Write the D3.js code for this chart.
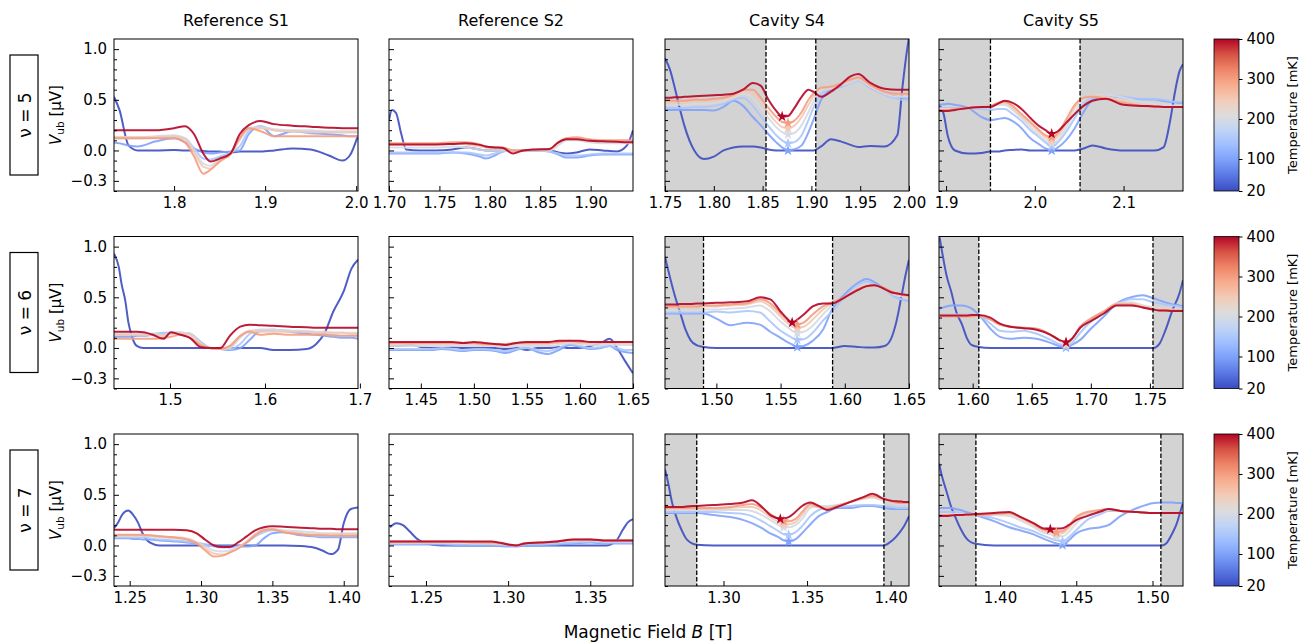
<!DOCTYPE html>
<html>
<head>
<meta charset="utf-8">
<script src="https://cdn.jsdelivr.net/npm/d3@7"></script>
<style>
  body { margin: 0; background: #fff; }
  text { font-family: "DejaVu Sans", sans-serif; fill: #000; }
</style>
</head>
<body>
<svg id="chart" width="1307" height="642"></svg>
<script>
// temperatures of the curves [mK], drawn from cold to hot
const TEMPS = [20, 100, 150, 200, 250, 300, 400];
const SAMPLES = ["Reference S1", "Reference S2", "Cavity S4", "Cavity S5"];
const FILLINGS = [5, 6, 7];
const Y_TICKS = [1.0, 0.5, 0.0, -0.3];
const CBAR_TICKS = [20, 100, 200, 300, 400];

// ---- nu = 5 ----
const B_S1_5 = [1.734, 1.740, 1.750, 1.760, 1.780, 1.800, 1.812, 1.822, 1.832, 1.840, 1.850, 1.862, 1.872, 1.882, 1.895, 1.910, 1.930, 1.950, 1.970, 1.985, 1.993, 2.002];
const V_S1_5 = [
  [0.53, 0.40, 0.05, 0.0, 0.0, 0.005, 0.0, 0.0, -0.005, -0.01, -0.01, -0.02, -0.01, -0.01, -0.01, 0.0, 0.02, 0.01, -0.05, -0.10, -0.05, 0.15],
  [0.08, 0.07, 0.05, 0.04, 0.09, 0.12, 0.08, 0.02, -0.02, -0.03, -0.02, -0.01, 0.0, 0.16, 0.24, 0.14, 0.19, 0.17, 0.16, 0.15, 0.14, 0.14],
  [0.12, 0.12, 0.12, 0.12, 0.13, 0.14, 0.12, 0.02, -0.08, -0.09, -0.06, -0.02, 0.04, 0.19, 0.24, 0.20, 0.19, 0.19, 0.18, 0.18, 0.18, 0.18],
  [0.13, 0.13, 0.13, 0.13, 0.14, 0.15, 0.12, 0.0, -0.13, -0.15, -0.08, -0.03, 0.10, 0.22, 0.23, 0.21, 0.20, 0.20, 0.19, 0.19, 0.19, 0.19],
  [0.13, 0.13, 0.13, 0.13, 0.13, 0.14, 0.11, -0.02, -0.16, -0.18, -0.10, -0.04, 0.12, 0.21, 0.22, 0.20, 0.19, 0.18, 0.18, 0.18, 0.18, 0.18],
  [0.12, 0.12, 0.12, 0.12, 0.12, 0.12, 0.08, -0.06, -0.23, -0.19, -0.11, -0.03, 0.12, 0.22, 0.19, 0.14, 0.14, 0.14, 0.14, 0.14, 0.14, 0.14],
  [0.20, 0.20, 0.20, 0.20, 0.20, 0.22, 0.24, 0.16, -0.03, -0.11, -0.08, -0.03, 0.16, 0.25, 0.29, 0.26, 0.245, 0.235, 0.225, 0.22, 0.22, 0.22]
];

const B_S2_5 = [1.700, 1.703, 1.707, 1.712, 1.717, 1.730, 1.746, 1.763, 1.776, 1.790, 1.796, 1.805, 1.813, 1.823, 1.833, 1.846, 1.859, 1.868, 1.876, 1.886, 1.899, 1.912, 1.926, 1.936, 1.942];
const V_S2_5 = [
  [0.30, 0.40, 0.37, 0.17, 0.01, 0.0, 0.0, 0.01, 0.03, 0.01, 0.0, 0.0, 0.0, 0.0, 0.0, 0.0, 0.0, -0.02, -0.03, -0.02, 0.01, 0.0, -0.01, 0.05, 0.20],
  [-0.03, -0.03, -0.03, -0.03, -0.03, -0.03, -0.03, -0.02, -0.03, -0.06, -0.08, -0.05, -0.01, 0.0, 0.0, 0.0, -0.01, -0.04, -0.07, -0.07, -0.05, -0.04, -0.04, -0.04, -0.04],
  [-0.02, -0.02, -0.02, -0.02, -0.02, -0.02, -0.02, -0.02, -0.02, -0.04, -0.05, -0.03, -0.01, 0.0, 0.0, 0.0, -0.01, -0.03, -0.05, -0.05, -0.04, -0.03, -0.03, -0.03, -0.03],
  [0.03, 0.03, 0.03, 0.03, 0.03, 0.03, 0.03, 0.04, 0.03, 0.01, 0.0, 0.0, 0.0, 0.0, 0.0, 0.0, 0.0, 0.05, 0.10, 0.10, 0.08, 0.07, 0.07, 0.07, 0.07],
  [0.06, 0.06, 0.06, 0.06, 0.06, 0.06, 0.06, 0.07, 0.06, 0.04, 0.03, 0.02, 0.02, 0.0, 0.0, 0.01, 0.01, 0.08, 0.12, 0.12, 0.10, 0.09, 0.09, 0.09, 0.09],
  [0.07, 0.07, 0.07, 0.07, 0.07, 0.07, 0.07, 0.08, 0.08, 0.06, 0.04, 0.03, 0.03, 0.0, 0.0, 0.01, 0.01, 0.08, 0.12, 0.13, 0.11, 0.10, 0.10, 0.10, 0.10],
  [0.06, 0.06, 0.06, 0.06, 0.06, 0.06, 0.06, 0.065, 0.07, 0.055, 0.04, 0.03, 0.025, -0.03, 0.0, 0.01, 0.015, 0.08, 0.11, 0.11, 0.095, 0.09, 0.085, 0.08, 0.08]
];

const B_S4_5 = [1.750, 1.755, 1.760, 1.765, 1.770, 1.780, 1.790, 1.800, 1.810, 1.820, 1.830, 1.840, 1.848, 1.856, 1.864, 1.870, 1.876, 1.882, 1.890, 1.897, 1.902, 1.910, 1.920, 1.930, 1.940, 1.948, 1.960, 1.975, 1.988, 1.993, 1.997, 2.000];
const V_S4_5 = [
  [0.91, 0.80, 0.62, 0.42, 0.24, 0.0, -0.085, -0.06, 0.0, 0.03, 0.04, 0.04, 0.03, 0.01, 0.0, 0.0, 0.0, 0.0, 0.0, 0.0, 0.0, 0.04, 0.11, 0.09, 0.055, 0.035, 0.045, 0.04, 0.15, 0.60, 0.92, 1.12],
  [0.40, 0.40, 0.40, 0.40, 0.40, 0.40, 0.40, 0.395, 0.43, 0.49, 0.44, 0.33, 0.25, 0.16, 0.08, 0.03, 0.0, 0.01, 0.05, 0.18, 0.30, 0.50, 0.60, 0.63, 0.67, 0.70, 0.62, 0.56, 0.53, 0.52, 0.52, 0.52],
  [0.42, 0.42, 0.42, 0.42, 0.42, 0.43, 0.43, 0.44, 0.46, 0.50, 0.52, 0.44, 0.34, 0.24, 0.15, 0.10, 0.07, 0.08, 0.15, 0.30, 0.42, 0.56, 0.61, 0.63, 0.66, 0.69, 0.62, 0.55, 0.51, 0.50, 0.50, 0.50],
  [0.45, 0.45, 0.45, 0.45, 0.45, 0.46, 0.46, 0.47, 0.49, 0.52, 0.56, 0.52, 0.42, 0.32, 0.23, 0.18, 0.16, 0.17, 0.25, 0.38, 0.48, 0.59, 0.61, 0.64, 0.67, 0.70, 0.63, 0.56, 0.53, 0.53, 0.53, 0.53],
  [0.47, 0.47, 0.47, 0.47, 0.47, 0.48, 0.48, 0.49, 0.51, 0.53, 0.58, 0.56, 0.47, 0.37, 0.28, 0.23, 0.22, 0.24, 0.33, 0.45, 0.53, 0.61, 0.62, 0.65, 0.69, 0.71, 0.64, 0.57, 0.55, 0.55, 0.55, 0.55],
  [0.49, 0.49, 0.49, 0.49, 0.49, 0.50, 0.50, 0.51, 0.52, 0.55, 0.60, 0.60, 0.52, 0.42, 0.33, 0.28, 0.27, 0.29, 0.38, 0.50, 0.56, 0.62, 0.63, 0.66, 0.70, 0.72, 0.65, 0.58, 0.56, 0.56, 0.56, 0.56],
  [0.52, 0.52, 0.525, 0.525, 0.53, 0.535, 0.54, 0.545, 0.55, 0.56, 0.60, 0.665, 0.64, 0.50, 0.39, 0.335, 0.34, 0.41, 0.53, 0.60, 0.58, 0.53, 0.58, 0.65, 0.73, 0.755, 0.67, 0.61, 0.60, 0.60, 0.60, 0.60]
];

const B_S5_5 = [1.892, 1.897, 1.902, 1.910, 1.925, 1.940, 1.950, 1.958, 1.966, 1.975, 1.985, 1.995, 2.005, 2.012, 2.019, 2.026, 2.035, 2.045, 2.055, 2.065, 2.080, 2.100, 2.120, 2.135, 2.145, 2.152, 2.158, 2.163, 2.167];
const V_S5_5 = [
  [0.45, 0.37, 0.14, 0.0, -0.03, -0.025, -0.01, -0.01, 0.0, 0.005, 0.01, 0.0, 0.0, 0.0, 0.0, 0.0, 0.0, 0.0, 0.02, 0.05, 0.02, 0.0, 0.0, 0.0, 0.03, 0.27, 0.58, 0.78, 0.85],
  [0.45, 0.455, 0.46, 0.45, 0.42, 0.33, 0.30, 0.31, 0.32, 0.29, 0.22, 0.12, 0.06, 0.02, 0.0, 0.03, 0.10, 0.22, 0.38, 0.50, 0.54, 0.52, 0.505, 0.505, 0.49, 0.48, 0.475, 0.47, 0.47],
  [0.42, 0.42, 0.42, 0.42, 0.42, 0.41, 0.40, 0.41, 0.41, 0.36, 0.29, 0.20, 0.13, 0.08, 0.04, 0.08, 0.18, 0.32, 0.46, 0.52, 0.54, 0.53, 0.51, 0.51, 0.50, 0.49, 0.48, 0.48, 0.48],
  [0.41, 0.41, 0.41, 0.41, 0.42, 0.43, 0.43, 0.45, 0.45, 0.40, 0.32, 0.23, 0.15, 0.10, 0.07, 0.10, 0.22, 0.37, 0.50, 0.54, 0.55, 0.52, 0.48, 0.46, 0.45, 0.45, 0.44, 0.44, 0.44],
  [0.40, 0.40, 0.41, 0.41, 0.42, 0.43, 0.44, 0.46, 0.47, 0.42, 0.34, 0.26, 0.18, 0.13, 0.10, 0.14, 0.26, 0.42, 0.52, 0.54, 0.53, 0.49, 0.45, 0.44, 0.43, 0.43, 0.43, 0.43, 0.43],
  [0.39, 0.40, 0.40, 0.41, 0.42, 0.43, 0.44, 0.47, 0.48, 0.44, 0.36, 0.28, 0.20, 0.15, 0.13, 0.17, 0.30, 0.45, 0.52, 0.53, 0.51, 0.47, 0.44, 0.43, 0.43, 0.43, 0.43, 0.43, 0.43],
  [0.39, 0.39, 0.39, 0.40, 0.42, 0.43, 0.43, 0.46, 0.49, 0.47, 0.41, 0.32, 0.24, 0.20, 0.165, 0.19, 0.27, 0.36, 0.44, 0.49, 0.51, 0.45, 0.44, 0.435, 0.43, 0.43, 0.43, 0.43, 0.43]
];

// ---- nu = 6 ----
const B_S1_6 = [1.441, 1.446, 1.449, 1.453, 1.456, 1.460, 1.465, 1.472, 1.482, 1.493, 1.501, 1.511, 1.521, 1.532, 1.542, 1.553, 1.563, 1.574, 1.584, 1.595, 1.609, 1.626, 1.644, 1.654, 1.663, 1.672, 1.683, 1.691, 1.698];
const V_S1_6 = [
  [0.93, 0.80, 0.63, 0.46, 0.26, 0.11, 0.02, 0.0, 0.0, 0.0, 0.0, 0.0, 0.0, 0.0, 0.0, 0.0, 0.0, 0.0, 0.0, 0.0, -0.02, -0.02, -0.01, 0.04, 0.15, 0.36, 0.56, 0.78, 0.87],
  [0.11, 0.11, 0.11, 0.11, 0.11, 0.11, 0.12, 0.12, 0.13, 0.14, 0.15, 0.15, 0.14, 0.06, 0.0, -0.01, -0.02, 0.0, 0.08, 0.17, 0.18, 0.16, 0.14, 0.13, 0.12, 0.11, 0.10, 0.10, 0.09],
  [0.13, 0.13, 0.13, 0.13, 0.13, 0.13, 0.13, 0.13, 0.14, 0.15, 0.15, 0.15, 0.14, 0.06, 0.0, -0.01, -0.01, 0.04, 0.14, 0.18, 0.18, 0.17, 0.16, 0.15, 0.14, 0.13, 0.12, 0.12, 0.12],
  [0.14, 0.14, 0.14, 0.14, 0.14, 0.14, 0.14, 0.14, 0.14, 0.13, 0.15, 0.15, 0.14, 0.05, 0.0, -0.01, 0.0, 0.10, 0.17, 0.18, 0.18, 0.17, 0.17, 0.16, 0.16, 0.15, 0.15, 0.15, 0.15],
  [0.13, 0.13, 0.13, 0.13, 0.13, 0.13, 0.13, 0.13, 0.13, 0.12, 0.14, 0.14, 0.13, 0.04, 0.0, -0.01, 0.01, 0.12, 0.17, 0.16, 0.16, 0.16, 0.16, 0.15, 0.15, 0.15, 0.15, 0.14, 0.14],
  [0.09, 0.09, 0.09, 0.09, 0.09, 0.09, 0.09, 0.09, 0.09, 0.10, 0.11, 0.13, 0.10, 0.03, 0.0, -0.01, 0.02, 0.12, 0.16, 0.13, 0.14, 0.13, 0.13, 0.13, 0.13, 0.12, 0.12, 0.12, 0.12],
  [0.16, 0.16, 0.16, 0.16, 0.16, 0.16, 0.16, 0.155, 0.13, 0.09, 0.155, 0.13, 0.10, 0.01, 0.0, 0.0, 0.12, 0.21, 0.23, 0.225, 0.22, 0.21, 0.205, 0.20, 0.20, 0.20, 0.20, 0.20, 0.20]
];

const B_S2_6 = [1.420, 1.430, 1.440, 1.450, 1.460, 1.470, 1.480, 1.490, 1.500, 1.510, 1.520, 1.530, 1.540, 1.550, 1.560, 1.570, 1.580, 1.590, 1.600, 1.610, 1.620, 1.628, 1.635, 1.642, 1.650];
const V_S2_6 = [
  [0.02, 0.02, 0.03, 0.01, 0.0, 0.0, 0.01, 0.0, 0.0, 0.0, 0.0, -0.01, 0.0, -0.02, 0.0, 0.0, 0.01, 0.0, 0.0, 0.02, 0.05, 0.09, 0.0, -0.12, -0.25],
  [-0.02, -0.02, -0.02, -0.02, -0.02, -0.01, -0.02, -0.03, -0.02, -0.02, -0.03, -0.05, -0.02, 0.0, -0.04, -0.06, -0.02, 0.03, 0.01, -0.01, 0.0, 0.02, -0.02, -0.04, -0.05],
  [-0.01, -0.01, -0.01, -0.01, -0.01, 0.0, -0.01, -0.02, -0.01, -0.01, -0.02, -0.03, -0.01, 0.0, -0.02, -0.03, 0.0, 0.04, 0.02, 0.0, 0.01, 0.02, 0.0, -0.02, -0.02],
  [0.02, 0.02, 0.02, 0.02, 0.02, 0.02, 0.02, 0.02, 0.02, 0.02, 0.02, 0.01, 0.02, 0.02, 0.02, 0.02, 0.03, 0.05, 0.04, 0.03, 0.03, 0.04, 0.03, 0.03, 0.03],
  [0.04, 0.04, 0.04, 0.04, 0.04, 0.04, 0.04, 0.04, 0.04, 0.03, 0.03, 0.03, 0.04, 0.04, 0.04, 0.04, 0.05, 0.06, 0.05, 0.05, 0.05, 0.05, 0.05, 0.05, 0.05],
  [0.05, 0.05, 0.05, 0.05, 0.05, 0.05, 0.05, 0.05, 0.05, 0.04, 0.04, 0.04, 0.05, 0.05, 0.05, 0.05, 0.06, 0.07, 0.06, 0.06, 0.06, 0.06, 0.06, 0.06, 0.06],
  [0.06, 0.06, 0.06, 0.06, 0.06, 0.06, 0.06, 0.05, 0.06, 0.05, 0.04, 0.03, 0.05, 0.06, 0.06, 0.06, 0.07, 0.07, 0.07, 0.06, 0.06, 0.06, 0.06, 0.06, 0.06]
];

const B_S4_6 = [1.460, 1.464, 1.468, 1.472, 1.476, 1.480, 1.485, 1.490, 1.500, 1.511, 1.524, 1.534, 1.542, 1.550, 1.555, 1.559, 1.563, 1.568, 1.575, 1.583, 1.590, 1.600, 1.610, 1.617, 1.623, 1.631, 1.636, 1.640, 1.644, 1.647, 1.650];
const V_S4_6 = [
  [0.90, 0.69, 0.50, 0.34, 0.18, 0.075, 0.025, 0.01, 0.0, 0.0, 0.0, 0.0, 0.0, 0.0, 0.0, 0.0, 0.0, 0.0, 0.0, 0.0, 0.0, 0.02, 0.01, 0.005, 0.005, 0.02, 0.09, 0.25, 0.50, 0.70, 0.87],
  [0.34, 0.34, 0.34, 0.34, 0.34, 0.34, 0.34, 0.34, 0.29, 0.225, 0.25, 0.23, 0.16, 0.10, 0.06, 0.035, 0.01, 0.02, 0.07, 0.18, 0.38, 0.53, 0.64, 0.68, 0.65, 0.58, 0.53, 0.50, 0.48, 0.47, 0.46],
  [0.35, 0.35, 0.35, 0.35, 0.35, 0.35, 0.35, 0.35, 0.36, 0.35, 0.365, 0.35, 0.26, 0.17, 0.13, 0.10, 0.08, 0.085, 0.15, 0.27, 0.36, 0.50, 0.62, 0.655, 0.63, 0.57, 0.53, 0.50, 0.48, 0.47, 0.46],
  [0.37, 0.37, 0.37, 0.37, 0.37, 0.37, 0.37, 0.38, 0.38, 0.39, 0.40, 0.42, 0.36, 0.26, 0.21, 0.17, 0.15, 0.16, 0.22, 0.33, 0.42, 0.50, 0.59, 0.62, 0.62, 0.57, 0.54, 0.52, 0.51, 0.50, 0.50],
  [0.40, 0.40, 0.40, 0.40, 0.40, 0.40, 0.40, 0.41, 0.41, 0.42, 0.43, 0.46, 0.41, 0.31, 0.25, 0.21, 0.20, 0.21, 0.28, 0.38, 0.44, 0.50, 0.58, 0.61, 0.62, 0.58, 0.55, 0.53, 0.52, 0.51, 0.51],
  [0.41, 0.41, 0.41, 0.41, 0.41, 0.41, 0.41, 0.42, 0.42, 0.43, 0.44, 0.48, 0.44, 0.34, 0.28, 0.24, 0.23, 0.25, 0.33, 0.41, 0.45, 0.50, 0.58, 0.61, 0.62, 0.59, 0.56, 0.54, 0.53, 0.52, 0.52],
  [0.43, 0.43, 0.43, 0.435, 0.435, 0.435, 0.44, 0.44, 0.445, 0.45, 0.46, 0.50, 0.48, 0.36, 0.29, 0.25, 0.28, 0.33, 0.41, 0.44, 0.44, 0.50, 0.57, 0.61, 0.62, 0.58, 0.55, 0.54, 0.53, 0.525, 0.52]
];

const B_S5_6 = [1.572, 1.575, 1.578, 1.582, 1.586, 1.591, 1.595, 1.599, 1.605, 1.615, 1.623, 1.632, 1.643, 1.654, 1.666, 1.673, 1.679, 1.684, 1.691, 1.700, 1.711, 1.722, 1.734, 1.744, 1.753, 1.758, 1.763, 1.769, 1.775, 1.778];
const V_S5_6 = [
  [1.09, 0.89, 0.71, 0.55, 0.36, 0.23, 0.10, 0.03, 0.01, 0.0, 0.0, 0.0, 0.0, 0.0, 0.0, 0.0, 0.0, 0.0, 0.0, 0.0, 0.0, 0.0, 0.0, 0.0, 0.0, 0.04, 0.17, 0.37, 0.54, 0.67],
  [0.39, 0.40, 0.41, 0.42, 0.42, 0.42, 0.41, 0.39, 0.33, 0.19, 0.11, 0.09, 0.10, 0.09, 0.05, 0.02, 0.005, 0.03, 0.08, 0.19, 0.31, 0.44, 0.50, 0.52, 0.49, 0.47, 0.45, 0.43, 0.42, 0.41],
  [0.33, 0.33, 0.33, 0.33, 0.33, 0.33, 0.33, 0.33, 0.32, 0.24, 0.17, 0.16, 0.17, 0.14, 0.08, 0.04, 0.015, 0.05, 0.15, 0.26, 0.34, 0.43, 0.48, 0.48, 0.45, 0.44, 0.43, 0.42, 0.41, 0.40],
  [0.32, 0.32, 0.32, 0.32, 0.32, 0.32, 0.32, 0.32, 0.32, 0.28, 0.23, 0.21, 0.20, 0.19, 0.13, 0.08, 0.035, 0.08, 0.20, 0.28, 0.36, 0.44, 0.45, 0.42, 0.40, 0.39, 0.38, 0.38, 0.38, 0.38],
  [0.32, 0.32, 0.32, 0.32, 0.32, 0.32, 0.32, 0.32, 0.32, 0.28, 0.23, 0.21, 0.20, 0.19, 0.13, 0.08, 0.045, 0.09, 0.21, 0.29, 0.36, 0.44, 0.44, 0.41, 0.39, 0.38, 0.38, 0.37, 0.37, 0.37],
  [0.31, 0.31, 0.31, 0.31, 0.31, 0.31, 0.31, 0.31, 0.32, 0.28, 0.23, 0.21, 0.20, 0.19, 0.13, 0.08, 0.05, 0.09, 0.21, 0.29, 0.36, 0.43, 0.43, 0.40, 0.38, 0.37, 0.37, 0.37, 0.37, 0.37],
  [0.32, 0.32, 0.32, 0.32, 0.32, 0.32, 0.32, 0.325, 0.325, 0.30, 0.24, 0.21, 0.195, 0.18, 0.13, 0.08, 0.055, 0.09, 0.20, 0.265, 0.34, 0.42, 0.42, 0.40, 0.38, 0.37, 0.37, 0.365, 0.365, 0.365]
];

// ---- nu = 7 ----
const B_S1_7 = [1.239, 1.242, 1.245, 1.249, 1.252, 1.256, 1.259, 1.264, 1.271, 1.281, 1.290, 1.297, 1.303, 1.309, 1.315, 1.320, 1.326, 1.332, 1.338, 1.344, 1.350, 1.358, 1.370, 1.379, 1.385, 1.391, 1.396, 1.400, 1.405, 1.410];
const V_S1_7 = [
  [0.17, 0.23, 0.31, 0.345, 0.31, 0.22, 0.12, 0.03, 0.0, 0.0, 0.0, 0.0, 0.0, 0.0, 0.0, 0.0, 0.0, 0.0, 0.0, 0.0, 0.0, 0.0, -0.005, -0.02, -0.05, -0.085, -0.04, 0.22, 0.36, 0.375],
  [0.07, 0.07, 0.07, 0.07, 0.065, 0.065, 0.06, 0.06, 0.05, 0.04, 0.03, 0.02, 0.01, 0.0, -0.01, -0.01, -0.01, -0.01, 0.0, 0.07, 0.12, 0.13, 0.10, 0.09, 0.08, 0.08, 0.08, 0.08, 0.08, 0.08],
  [0.08, 0.08, 0.08, 0.08, 0.08, 0.08, 0.08, 0.07, 0.06, 0.05, 0.04, 0.03, 0.01, -0.01, -0.02, -0.02, -0.01, 0.03, 0.09, 0.13, 0.15, 0.14, 0.12, 0.10, 0.09, 0.09, 0.09, 0.09, 0.09, 0.09],
  [0.09, 0.09, 0.09, 0.09, 0.09, 0.09, 0.09, 0.09, 0.08, 0.07, 0.06, 0.03, -0.01, -0.05, -0.06, -0.05, -0.02, 0.04, 0.11, 0.15, 0.16, 0.15, 0.14, 0.13, 0.12, 0.12, 0.12, 0.12, 0.12, 0.12],
  [0.10, 0.10, 0.10, 0.10, 0.10, 0.10, 0.10, 0.10, 0.09, 0.08, 0.07, 0.03, -0.03, -0.08, -0.09, -0.07, -0.03, 0.04, 0.11, 0.16, 0.16, 0.14, 0.12, 0.11, 0.11, 0.11, 0.11, 0.11, 0.11, 0.11],
  [0.105, 0.105, 0.105, 0.105, 0.105, 0.105, 0.105, 0.10, 0.09, 0.08, 0.06, 0.02, -0.05, -0.11, -0.10, -0.07, -0.03, 0.03, 0.10, 0.15, 0.16, 0.13, 0.11, 0.10, 0.10, 0.095, 0.095, 0.095, 0.095, 0.095],
  [0.155, 0.155, 0.155, 0.155, 0.155, 0.155, 0.155, 0.155, 0.155, 0.155, 0.15, 0.12, 0.056, 0.0, -0.015, -0.015, 0.03, 0.09, 0.15, 0.18, 0.19, 0.185, 0.175, 0.17, 0.165, 0.165, 0.16, 0.16, 0.16, 0.16]
];

const B_S2_7 = [1.228, 1.232, 1.236, 1.240, 1.245, 1.250, 1.260, 1.270, 1.280, 1.290, 1.300, 1.305, 1.310, 1.320, 1.330, 1.340, 1.350, 1.360, 1.366, 1.370, 1.373, 1.376];
const V_S2_7 = [
  [0.18, 0.22, 0.20, 0.14, 0.06, 0.02, 0.0, 0.0, 0.0, 0.0, 0.0, 0.0, 0.0, 0.0, 0.0, 0.0, 0.0, 0.0, 0.05, 0.16, 0.23, 0.26],
  [0.01, 0.01, 0.01, 0.01, 0.01, 0.01, 0.01, 0.0, 0.0, 0.0, -0.01, -0.01, 0.0, 0.0, 0.01, 0.02, 0.03, 0.02, 0.02, 0.02, 0.02, 0.02],
  [0.02, 0.02, 0.02, 0.02, 0.02, 0.02, 0.02, 0.01, 0.01, 0.01, 0.0, 0.0, 0.01, 0.01, 0.02, 0.03, 0.04, 0.03, 0.03, 0.03, 0.03, 0.03],
  [0.03, 0.03, 0.03, 0.03, 0.03, 0.03, 0.03, 0.03, 0.02, 0.02, 0.01, 0.0, 0.02, 0.03, 0.04, 0.05, 0.05, 0.04, 0.04, 0.04, 0.04, 0.04],
  [0.03, 0.03, 0.03, 0.03, 0.03, 0.03, 0.03, 0.03, 0.03, 0.02, 0.01, 0.0, 0.02, 0.03, 0.04, 0.05, 0.06, 0.05, 0.05, 0.05, 0.05, 0.05],
  [0.04, 0.04, 0.04, 0.04, 0.04, 0.04, 0.04, 0.04, 0.03, 0.03, 0.01, 0.0, 0.02, 0.03, 0.04, 0.06, 0.06, 0.05, 0.05, 0.05, 0.05, 0.05],
  [0.04, 0.04, 0.04, 0.04, 0.04, 0.04, 0.04, 0.04, 0.04, 0.04, 0.01, 0.0, 0.02, 0.03, 0.04, 0.06, 0.06, 0.05, 0.05, 0.05, 0.05, 0.05]
];

const B_S4_7 = [1.265, 1.267, 1.269, 1.272, 1.275, 1.278, 1.284, 1.294, 1.304, 1.312, 1.317, 1.323, 1.328, 1.332, 1.334, 1.336, 1.339, 1.343, 1.347, 1.352, 1.357, 1.362, 1.368, 1.376, 1.384, 1.389, 1.396, 1.401, 1.405, 1.408, 1.411];
const V_S4_7 = [
  [0.75, 0.61, 0.44, 0.27, 0.15, 0.06, 0.007, 0.0, 0.0, 0.0, 0.0, 0.0, 0.0, 0.0, 0.0, 0.0, 0.0, 0.0, 0.0, 0.0, 0.0, 0.0, 0.0, 0.0, 0.0, 0.0, 0.0, 0.05, 0.12, 0.19, 0.29],
  [0.32, 0.32, 0.32, 0.32, 0.32, 0.32, 0.32, 0.30, 0.28, 0.25, 0.22, 0.17, 0.12, 0.09, 0.07, 0.05, 0.04, 0.06, 0.12, 0.21, 0.29, 0.33, 0.37, 0.37, 0.39, 0.39, 0.37, 0.36, 0.36, 0.36, 0.36],
  [0.33, 0.33, 0.33, 0.33, 0.33, 0.33, 0.33, 0.33, 0.32, 0.31, 0.29, 0.24, 0.19, 0.15, 0.13, 0.11, 0.105, 0.13, 0.19, 0.29, 0.35, 0.37, 0.38, 0.39, 0.40, 0.40, 0.39, 0.38, 0.37, 0.37, 0.37],
  [0.35, 0.35, 0.35, 0.35, 0.35, 0.35, 0.35, 0.35, 0.35, 0.35, 0.34, 0.30, 0.25, 0.21, 0.19, 0.18, 0.18, 0.20, 0.26, 0.37, 0.39, 0.39, 0.40, 0.43, 0.46, 0.47, 0.44, 0.42, 0.41, 0.41, 0.41],
  [0.36, 0.36, 0.36, 0.36, 0.36, 0.36, 0.36, 0.36, 0.37, 0.38, 0.38, 0.34, 0.28, 0.24, 0.22, 0.21, 0.21, 0.23, 0.30, 0.39, 0.38, 0.37, 0.39, 0.43, 0.47, 0.48, 0.45, 0.43, 0.42, 0.42, 0.42],
  [0.37, 0.37, 0.37, 0.37, 0.37, 0.37, 0.37, 0.37, 0.38, 0.40, 0.41, 0.37, 0.31, 0.27, 0.25, 0.24, 0.24, 0.26, 0.33, 0.41, 0.38, 0.36, 0.39, 0.43, 0.47, 0.49, 0.46, 0.43, 0.42, 0.42, 0.42],
  [0.38, 0.38, 0.38, 0.38, 0.38, 0.385, 0.39, 0.40, 0.41, 0.425, 0.445, 0.38, 0.30, 0.27, 0.26, 0.265, 0.28, 0.33, 0.39, 0.425, 0.39, 0.35, 0.38, 0.43, 0.48, 0.51, 0.46, 0.44, 0.435, 0.43, 0.43]
];

const B_S5_7 = [1.360, 1.362, 1.365, 1.368, 1.371, 1.374, 1.378, 1.384, 1.396, 1.406, 1.413, 1.422, 1.428, 1.433, 1.437, 1.441, 1.445, 1.450, 1.457, 1.466, 1.471, 1.479, 1.490, 1.501, 1.506, 1.509, 1.513, 1.516, 1.518, 1.520];
const V_S5_7 = [
  [0.81, 0.68, 0.53, 0.38, 0.27, 0.17, 0.07, 0.016, 0.0, 0.0, 0.0, 0.0, 0.0, 0.0, 0.0, 0.0, 0.0, 0.0, 0.0, 0.0, 0.0, 0.0, 0.0, 0.0, 0.0, 0.02, 0.12, 0.22, 0.32, 0.42],
  [0.37, 0.37, 0.37, 0.37, 0.36, 0.35, 0.33, 0.30, 0.24, 0.18, 0.15, 0.11, 0.07, 0.04, 0.02, 0.005, 0.05, 0.12, 0.16, 0.18, 0.20, 0.29, 0.37, 0.42, 0.425, 0.425, 0.425, 0.42, 0.42, 0.42],
  [0.33, 0.33, 0.33, 0.33, 0.33, 0.32, 0.31, 0.30, 0.27, 0.22, 0.18, 0.14, 0.10, 0.07, 0.05, 0.04, 0.08, 0.15, 0.25, 0.31, 0.34, 0.34, 0.33, 0.32, 0.32, 0.32, 0.32, 0.32, 0.32, 0.32],
  [0.31, 0.31, 0.31, 0.31, 0.31, 0.31, 0.31, 0.31, 0.30, 0.29, 0.25, 0.18, 0.13, 0.11, 0.09, 0.09, 0.13, 0.22, 0.30, 0.34, 0.35, 0.34, 0.33, 0.32, 0.32, 0.32, 0.32, 0.32, 0.32, 0.32],
  [0.30, 0.30, 0.30, 0.30, 0.30, 0.30, 0.30, 0.30, 0.31, 0.31, 0.27, 0.20, 0.15, 0.13, 0.12, 0.12, 0.17, 0.26, 0.32, 0.35, 0.36, 0.34, 0.33, 0.32, 0.32, 0.32, 0.32, 0.32, 0.32, 0.32],
  [0.30, 0.30, 0.30, 0.30, 0.30, 0.30, 0.30, 0.30, 0.31, 0.32, 0.28, 0.21, 0.16, 0.14, 0.13, 0.14, 0.19, 0.28, 0.33, 0.35, 0.36, 0.34, 0.33, 0.32, 0.32, 0.32, 0.32, 0.32, 0.32, 0.32],
  [0.29, 0.29, 0.29, 0.295, 0.30, 0.30, 0.305, 0.31, 0.32, 0.33, 0.285, 0.22, 0.17, 0.16, 0.165, 0.17, 0.20, 0.25, 0.29, 0.335, 0.36, 0.34, 0.33, 0.32, 0.32, 0.32, 0.32, 0.32, 0.32, 0.32]
];

// per-panel x ranges, tick values and (for cavity samples) the window edges
const panels = [
  { row: 0, col: 0, B: B_S1_5, V: V_S1_5, dom: [1.734, 2.002], ticks: [1.8, 1.9, 2.0], fmt: ".1f" },
  { row: 0, col: 1, B: B_S2_5, V: V_S2_5, dom: [1.700, 1.942], ticks: [1.70, 1.75, 1.80, 1.85, 1.90], fmt: ".2f" },
  { row: 0, col: 2, B: B_S4_5, V: V_S4_5, dom: [1.750, 2.000], ticks: [1.75, 1.80, 1.85, 1.90, 1.95, 2.00], fmt: ".2f", win: [1.8535, 1.9045] },
  { row: 0, col: 3, B: B_S5_5, V: V_S5_5, dom: [1.892, 2.167], ticks: [1.9, 2.0, 2.1], fmt: ".1f", win: [1.950, 2.051] },
  { row: 1, col: 0, B: B_S1_6, V: V_S1_6, dom: [1.441, 1.698], ticks: [1.5, 1.6, 1.7], fmt: ".1f" },
  { row: 1, col: 1, B: B_S2_6, V: V_S2_6, dom: [1.420, 1.650], ticks: [1.45, 1.50, 1.55, 1.60, 1.65], fmt: ".2f" },
  { row: 1, col: 2, B: B_S4_6, V: V_S4_6, dom: [1.460, 1.650], ticks: [1.50, 1.55, 1.60, 1.65], fmt: ".2f", win: [1.490, 1.5905] },
  { row: 1, col: 3, B: B_S5_6, V: V_S5_6, dom: [1.5715, 1.778], ticks: [1.60, 1.65, 1.70, 1.75], fmt: ".2f", win: [1.6052, 1.7526] },
  { row: 2, col: 0, B: B_S1_7, V: V_S1_7, dom: [1.239, 1.410], ticks: [1.25, 1.30, 1.35, 1.40], fmt: ".2f" },
  { row: 2, col: 1, B: B_S2_7, V: V_S2_7, dom: [1.2275, 1.376], ticks: [1.25, 1.30, 1.35], fmt: ".2f" },
  { row: 2, col: 2, B: B_S4_7, V: V_S4_7, dom: [1.265, 1.411], ticks: [1.30, 1.35, 1.40], fmt: ".2f", win: [1.284, 1.396] },
  { row: 2, col: 3, B: B_S5_7, V: V_S5_7, dom: [1.360, 1.520], ticks: [1.40, 1.45, 1.50], fmt: ".2f", win: [1.3842, 1.5055] }
];

// layout
const colLeft = [114, 389, 665, 939];
const rowTop = [39, 236.5, 434];
const W = 244, H = 152;

// matplotlib coolwarm
const CW = ["#3b4cc0", "#5977e3", "#7b9ff9", "#9ebeff", "#c0d4f5", "#dddcdc",
            "#f2cbb7", "#f7ac8e", "#ee8468", "#d65244", "#b40426"];
const cw = d3.scaleLinear().domain(d3.range(11).map(i => i / 10)).range(CW).interpolate(d3.interpolateRgb);
const tNorm = d3.scaleLinear().domain([20, 400]).range([0, 1]);
const tempColor = T => cw(tNorm(T));

const svg = d3.select("#chart");
const defs = svg.append("defs");

const y = d3.scaleLinear().domain([-0.4, 1.1]).range([H, 0]);
const minorY = d3.range(-4, 11).map(i => i / 10).filter(v => !Y_TICKS.some(t => Math.abs(t - v) < 1e-9));

panels.forEach((p, k) => {
  const g = svg.append("g").attr("transform", `translate(${colLeft[p.col]},${rowTop[p.row]})`);
  const x = d3.scaleLinear().domain(p.dom).range([0, W]);

  defs.append("clipPath").attr("id", "clip" + k)
    .append("rect").attr("width", W).attr("height", H);
  const plot = g.append("g").attr("clip-path", `url(#clip${k})`);

  // grey outside the window
  if (p.win) {
    plot.append("rect").attr("x", 0).attr("y", 0)
      .attr("width", x(p.win[0])).attr("height", H).attr("fill", "#d3d3d3");
    plot.append("rect").attr("x", x(p.win[1])).attr("y", 0)
      .attr("width", W - x(p.win[1])).attr("height", H).attr("fill", "#d3d3d3");
  }

  const line = d3.line()
    .x(d => x(d[0]))
    .y(d => y(d[1]))
    .curve(d3.curveMonotoneX);

  TEMPS.forEach((T, i) => {
    const pts = p.B.map((b, j) => [b, p.V[i][j]]);
    plot.append("path")
      .attr("d", line(pts))
      .attr("fill", "none")
      .attr("stroke", tempColor(T))
      .attr("stroke-width", 2)
      .attr("stroke-opacity", 0.9)
      .attr("stroke-linejoin", "round");
  });

  if (p.win) {
    p.win.forEach(w => {
      plot.append("line")
        .attr("x1", x(w)).attr("x2", x(w))
        .attr("y1", 0).attr("y2", H)
        .attr("stroke", "#000")
        .attr("stroke-width", 1.3)
        .attr("stroke-dasharray", "4.5,2");
    });

    // star at the minimum inside the window for each warm curve
    const star = d3.symbol().type(d3.symbolStar).size(38);
    TEMPS.forEach((T, i) => {
      if (T < 100) return;
      let best = -1;
      p.B.forEach((b, j) => {
        if (b < p.win[0] || b > p.win[1]) return;
        if (best < 0 || p.V[i][j] < p.V[i][best]) best = j;
      });
      plot.append("path")
        .attr("d", star())
        .attr("transform", `translate(${x(p.B[best])},${y(p.V[i][best])})`)
        .attr("fill", tempColor(T));
    });
  }

  // axes, ticks pointing inwards
  const xAxis = d3.axisBottom(x).tickValues(p.ticks)
    .tickFormat(d3.format(p.fmt)).tickSizeInner(-5).tickSizeOuter(0).tickPadding(6);
  const gx = g.append("g").attr("transform", `translate(0,${H})`).call(xAxis);
  gx.select(".domain").remove();
  gx.selectAll("text").style("font-size", "15px").attr("fill", "#000");

  const yAxis = d3.axisLeft(y).tickValues(Y_TICKS)
    .tickFormat(p.col === 0 ? d3.format(".1f") : "").tickSizeInner(-5).tickSizeOuter(0).tickPadding(7);
  const gy = g.append("g").call(yAxis);
  gy.select(".domain").remove();
  gy.selectAll("text").style("font-size", "15px").attr("fill", "#000");

  const gm = g.append("g").call(d3.axisLeft(y).tickValues(minorY).tickFormat("").tickSizeInner(-3).tickSizeOuter(0));
  gm.select(".domain").remove();

  g.append("rect").attr("width", W).attr("height", H)
    .attr("fill", "none").attr("stroke", "#000").attr("stroke-width", 1);
});

// column titles
SAMPLES.forEach((s, c) => {
  svg.append("text")
    .attr("x", colLeft[c] + W / 2).attr("y", 26)
    .attr("text-anchor", "middle")
    .style("font-size", "16px")
    .text(s);
});

// row labels, y labels and colour bars
const grad = defs.append("linearGradient").attr("id", "cbar")
  .attr("x1", 0).attr("y1", 1).attr("x2", 0).attr("y2", 0);
d3.range(0, 1.0001, 0.05).forEach(t => {
  grad.append("stop").attr("offset", t).attr("stop-color", cw(t));
});

FILLINGS.forEach((nu, r) => {
  const cy = rowTop[r] + H / 2;

  svg.append("rect")
    .attr("x", 10).attr("y", cy - 60).attr("width", 28).attr("height", 120)
    .attr("fill", "#fff").attr("stroke", "#000").attr("stroke-width", 1.2);
  svg.append("text")
    .attr("transform", `translate(30.5,${cy}) rotate(-90)`)
    .attr("text-anchor", "middle")
    .style("font-size", "17px")
    .text(`ν = ${nu}`);

  const yl = svg.append("text")
    .attr("transform", `translate(61,${cy}) rotate(-90)`)
    .attr("text-anchor", "middle")
    .style("font-size", "15px");
  yl.append("tspan").style("font-style", "italic").text("V");
  yl.append("tspan").attr("dy", 3).style("font-size", "10.5px").text("ub");
  yl.append("tspan").attr("dy", -3).text(" [μV]");

  const cbX = 1214, cbW = 25;
  svg.append("rect")
    .attr("x", cbX).attr("y", rowTop[r]).attr("width", cbW).attr("height", H)
    .attr("fill", "url(#cbar)").attr("stroke", "#000").attr("stroke-width", 0.8);
  const cbY = d3.scaleLinear().domain([20, 400]).range([rowTop[r] + H, rowTop[r]]);
  const gc = svg.append("g").attr("transform", `translate(${cbX + cbW},0)`)
    .call(d3.axisRight(cbY).tickValues(CBAR_TICKS).tickSizeInner(3.5).tickSizeOuter(0).tickPadding(4));
  gc.select(".domain").remove();
  gc.selectAll("text").style("font-size", "15px").attr("fill", "#000");

  svg.append("text")
    .attr("transform", `translate(1297,${cy}) rotate(-90)`)
    .attr("text-anchor", "middle")
    .style("font-size", "13px")
    .text("Temperature [mK]");
});

// shared x label
const xl = svg.append("text")
  .attr("x", 648).attr("y", 638)
  .attr("text-anchor", "middle")
  .style("font-size", "17px");
xl.append("tspan").text("Magnetic Field ");
xl.append("tspan").style("font-style", "italic").text("B");
xl.append("tspan").text(" [T]");
</script>
</body>
</html>
